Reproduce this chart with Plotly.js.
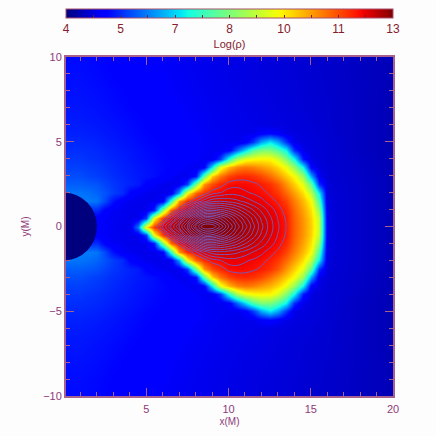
<!DOCTYPE html>
<html>
<head>
<meta charset="utf-8">
<script src="https://cdn.plot.ly/plotly-3.0.1.min.js"></script>
<style>html,body{margin:0;padding:0;background:#fdfdfd}</style>
</head>
<body>
<div id="chart" style="width:436px;height:436px"></div>
<script>
// Grid positions of the density map (x in M, y in M)
const xGrid = [0,0.5,1,1.5,2,2.5,3,3.5,4,4.5,5,5.5,6,6.5,7,7.5,8,8.5,9,9.5,10,10.5,11,11.5,12,12.5,13,13.5,14,14.5,15,15.5,16,16.5,17,17.5,18,18.5,19,19.5,20];
const yUpper = [0,0.5,1,1.5,2,2.5,3,3.5,4,4.5,5,5.5,6,7,8,9,10];

// Log(rho), one row per y above the equator.
// Each row: x 0-4.5 / 5-9.5 / 10-14.5 / 15-20
const rowY0 = [5.0,5.0,5.0,5.0,5.0,4.95,4.9,4.85,4.85,6.2,
  10,11.7,12.3,12.55,12.7,12.82,12.93,13,13,12.95,
  12.88,12.8,12.72,12.62,12.5,12.36,12.2,12.0,11.35,10.85,
  10.3,9.3,4.8,4.68,4.64,4.6,4.57,4.54,4.51,4.47,4.43];
const rowY05 = [5.0,5.0,5.0,5.0,5.0,4.95,4.9,4.88,4.85,4.85,
  5.6,9.8,11.7,12.3,12.55,12.72,12.83,12.9,12.9,12.87,
  12.82,12.75,12.67,12.58,12.46,12.33,12.17,11.97,11.33,10.82,
  10.25,9.2,4.8,4.68,4.64,4.6,4.57,4.54,4.51,4.47,4.43];
const rowY1 = [5.5,5.5,5.5,5.5,5.5,5.05,4.92,4.88,4.85,4.85,
  4.85,5.4,8.8,11.3,12.1,12.4,12.6,12.7,12.72,12.7,
  12.67,12.62,12.55,12.47,12.37,12.25,12.1,11.85,11.25,10.7,
  10.1,8.7,4.78,4.68,4.64,4.6,4.57,4.54,4.51,4.47,4.43];
const rowY15 = [6.2,6.2,6.2,6.2,6.15,5.75,5.25,4.95,4.88,4.85,
  4.85,4.85,5.0,7.8,10.8,11.8,12.15,12.35,12.45,12.47,
  12.45,12.42,12.37,12.3,12.22,12.1,11.95,11.6,11.05,10.5,
  9.85,7.9,4.75,4.67,4.64,4.6,4.57,4.54,4.51,4.47,4.43];
const rowY2 = [6.15,6.15,6.15,6.1,6.0,5.85,5.65,5.5,5.1,4.95,
  4.87,4.85,4.85,4.9,6.6,9.8,11.3,11.8,12.1,12.17,
  12.25,12.25,12.2,12.15,12.08,11.95,11.7,11.25,10.75,10.15,
  9.2,7.2,4.72,4.66,4.63,4.6,4.57,4.54,4.51,4.47,4.43];
const rowY25 = [5.95,5.95,5.95,5.9,5.85,5.72,5.6,5.5,5.42,5.35,
  5.1,4.95,4.87,4.85,4.87,5.6,8.5,10.8,11.5,11.85,
  12.08,12.12,12.1,12.05,11.95,11.75,11.4,10.85,10.3,9.6,
  8.2,5.5,4.7,4.65,4.62,4.6,4.57,4.54,4.51,4.47,4.43];
const rowY3 = [5.8,5.8,5.8,5.72,5.67,5.6,5.52,5.45,5.38,5.33,
  5.28,5.22,5.12,4.95,4.87,4.87,5.3,8.2,10.3,11.1,
  11.6,11.8,11.85,11.75,11.55,11.2,10.8,10.35,9.85,8.8,
  6.6,4.85,4.68,4.64,4.61,4.59,4.56,4.53,4.5,4.46,4.43];
const rowY35 = [5.68,5.68,5.68,5.64,5.6,5.53,5.47,5.4,5.35,5.3,
  5.26,5.22,5.17,5.12,5.05,4.92,4.87,5.0,7.2,9.6,
  10.5,10.95,11.1,11.0,10.8,10.55,10.2,9.7,8.8,7.3,
  5.0,4.75,4.67,4.63,4.6,4.58,4.55,4.52,4.49,4.46,4.43];
const rowY4 = [5.6,5.6,5.6,5.55,5.52,5.47,5.42,5.37,5.32,5.27,
  5.23,5.19,5.15,5.12,5.08,5.03,4.97,4.9,4.9,5.6,
  7.6,9.0,9.65,9.85,9.95,9.9,9.45,8.6,7.4,5.3,
  4.75,4.7,4.66,4.63,4.6,4.57,4.54,4.51,4.48,4.45,4.42];
const rowY45 = [5.52,5.52,5.52,5.5,5.47,5.42,5.38,5.33,5.29,5.25,
  5.2,5.17,5.13,5.1,5.07,5.03,5.0,4.95,4.9,4.88,
  5.0,6.0,7.0,8.0,8.5,8.5,8.0,7.3,5.5,4.8,
  4.73,4.69,4.65,4.62,4.59,4.56,4.53,4.5,4.47,4.45,4.42];
const rowY5 = [5.46,5.46,5.46,5.44,5.41,5.37,5.33,5.29,5.25,5.21,
  5.17,5.14,5.11,5.08,5.05,5.02,4.99,4.95,4.92,4.9,
  4.88,4.87,5.0,5.6,6.6,7.2,6.6,5.6,4.8,4.75,
  4.72,4.68,4.65,4.62,4.59,4.56,4.53,4.5,4.47,4.45,4.42];
const rowY55 = [5.4,5.4,5.4,5.38,5.36,5.32,5.29,5.25,5.21,5.18,
  5.14,5.11,5.08,5.06,5.03,5.0,4.97,4.94,4.91,4.88,
  4.87,4.85,4.84,4.85,5.0,5.1,4.95,4.8,4.76,4.73,
  4.7,4.67,4.64,4.61,4.58,4.56,4.53,4.5,4.47,4.45,4.42];
const rowY6 = [5.36,5.36,5.36,5.34,5.32,5.29,5.26,5.22,5.19,5.16,
  5.12,5.09,5.07,5.04,5.01,4.98,4.95,4.92,4.89,4.87,
  4.85,4.84,4.83,4.82,4.8,4.78,4.76,4.75,4.73,4.71,
  4.68,4.65,4.63,4.6,4.58,4.55,4.53,4.5,4.47,4.45,4.42];
const rowY7 = [5.3,5.3,5.3,5.28,5.26,5.23,5.2,5.17,5.14,5.11,
  5.08,5.06,5.03,5.0,4.98,4.95,4.92,4.9,4.88,4.86,
  4.84,4.82,4.81,4.79,4.78,4.76,4.74,4.72,4.7,4.68,
  4.66,4.64,4.62,4.6,4.58,4.55,4.53,4.5,4.47,4.45,4.42];
const rowY8 = [5.26,5.26,5.26,5.24,5.22,5.19,5.16,5.13,5.1,5.08,
  5.05,5.03,5.0,4.97,4.95,4.93,4.9,4.88,4.86,4.84,
  4.82,4.81,4.79,4.77,4.76,4.74,4.72,4.71,4.69,4.67,
  4.65,4.63,4.61,4.59,4.57,4.55,4.53,4.5,4.48,4.45,4.43];
const rowY9 = [5.22,5.22,5.22,5.2,5.18,5.15,5.12,5.1,5.07,5.05,
  5.02,5.0,4.98,4.95,4.93,4.9,4.88,4.86,4.84,4.83,
  4.81,4.79,4.78,4.76,4.74,4.73,4.71,4.69,4.68,4.66,
  4.64,4.62,4.6,4.58,4.56,4.54,4.52,4.5,4.48,4.46,4.44];
const rowY10 = [5.2,5.2,5.2,5.18,5.16,5.13,5.1,5.08,5.05,5.03,
  5.0,4.98,4.96,4.94,4.92,4.89,4.87,4.85,4.84,4.82,
  4.8,4.79,4.77,4.75,4.74,4.72,4.7,4.69,4.67,4.65,
  4.63,4.61,4.6,4.58,4.56,4.54,4.52,4.5,4.48,4.46,4.45];

const upperRows = [rowY0,rowY05,rowY1,rowY15,rowY2,rowY25,rowY3,rowY35,rowY4,rowY45,rowY5,rowY55,rowY6,rowY7,rowY8,rowY9,rowY10];

// Colour bar ticks (labels are truncated in the original, 5.5 shows as 5)
const barTicks = [4,4.75,5.5,6.25,7,7.75,8.5,9.25,10,10.75,11.5,12.25,13];
const barLabels = ["4","","5","","7","","8","","10","","11","","13"];

const holeRadius = 2;
const jet = [[0,"#00007f"],[0.11,"#0000ff"],[0.125,"#0000ff"],[0.35,"#00e5f7"],[0.375,"#14ffe2"],[0.5,"#7aff7a"],[0.64,"#f0ff08"],[0.66,"#fff500"],[0.89,"#ff1400"],[0.91,"#f20000"],[1,"#7f0000"]];

// The disc is symmetric about the equator, so the lower half mirrors the upper one
const yGrid = yUpper.slice(1).reverse().map(v => -v).concat(yUpper);
const logRho = upperRows.slice(1).reverse().concat(upperRows);
const rho = logRho.map(row => row.map(v => Math.pow(10, v - 13)));

const axisColor = "#a8608c";
const labelColor = "#8e3a7a";

const density = {
    type: "heatmap",
    x: xGrid,
    y: yGrid,
    z: logRho,
    zmin: 4,
    zmax: 13,
    zsmooth: "best",
    colorscale: jet,
    hoverinfo: "skip",
    colorbar: {
        orientation: "h",
        lenmode: "pixels",
        len: 327,
        thickness: 9,
        xref: "paper",
        yref: "paper",
        x: 0,
        xanchor: "left",
        y: 1.143,
        yanchor: "top",
        xpad: 0,
        ypad: 0,
        outlinecolor: "#a8506a",
        outlinewidth: 1,
        tickmode: "array",
        tickvals: barTicks,
        ticktext: barLabels,
        ticks: "inside",
        ticklen: 3,
        tickcolor: "#6a2030",
        tickfont: {family: "Liberation Sans", size: 12, color: "#84202c"},
        title: {text: "Log(ρ)", side: "bottom", font: {family: "Liberation Sans", size: 11, color: "#84202c"}}
    }
};

const rings = {
    type: "contour",
    x: xGrid,
    y: yGrid,
    z: rho,
    showscale: false,
    hoverinfo: "skip",
    autocontour: false,
    contours: {coloring: "none", start: 0.1, end: 0.95, size: 0.05},
    line: {color: "#7a55b4", width: 1, smoothing: 1}
};

Plotly.newPlot("chart", [density, rings], {
    width: 436,
    height: 436,
    margin: {l: 66, r: 43, t: 57, b: 40, pad: 0, autoexpand: false},
    paper_bgcolor: "#fdfdfd",
    plot_bgcolor: "#fdfdfd",
    showlegend: false,
    xaxis: {
        range: [0.12, 20],
        tickmode: "linear",
        tick0: 0,
        dtick: 5,
        ticks: "inside",
        ticklen: 8,
        tickcolor: axisColor,
        minor: {dtick: 1, ticks: "inside", ticklen: 4, tickcolor: axisColor},
        showgrid: false,
        zeroline: false,
        showline: true,
        mirror: "allticks",
        linecolor: axisColor,
        linewidth: 2,
        ticklabelstandoff: 2,
        tickfont: {family: "Liberation Sans", size: 11, color: labelColor},
        title: {text: "x(M)", standoff: 4, font: {family: "Liberation Sans", size: 10, color: labelColor}}
    },
    yaxis: {
        range: [-10, 10],
        tickmode: "linear",
        tick0: 0,
        dtick: 5,
        ticks: "inside",
        ticklen: 8,
        tickcolor: axisColor,
        minor: {dtick: 1, ticks: "inside", ticklen: 4, tickcolor: axisColor},
        showgrid: false,
        zeroline: false,
        showline: true,
        mirror: "allticks",
        linecolor: axisColor,
        linewidth: 2,
        tickfont: {family: "Liberation Sans", size: 11, color: labelColor},
        title: {text: "y(M)", standoff: 12, font: {family: "Liberation Sans", size: 10, color: labelColor}}
    },
    shapes: [{
        type: "circle",
        xref: "x",
        yref: "y",
        x0: -holeRadius,
        x1: holeRadius,
        y0: -holeRadius,
        y1: holeRadius,
        fillcolor: "#00007f",
        line: {width: 0},
        layer: "above"
    }]
}, {displayModeBar: false});
</script>
</body>
</html>
